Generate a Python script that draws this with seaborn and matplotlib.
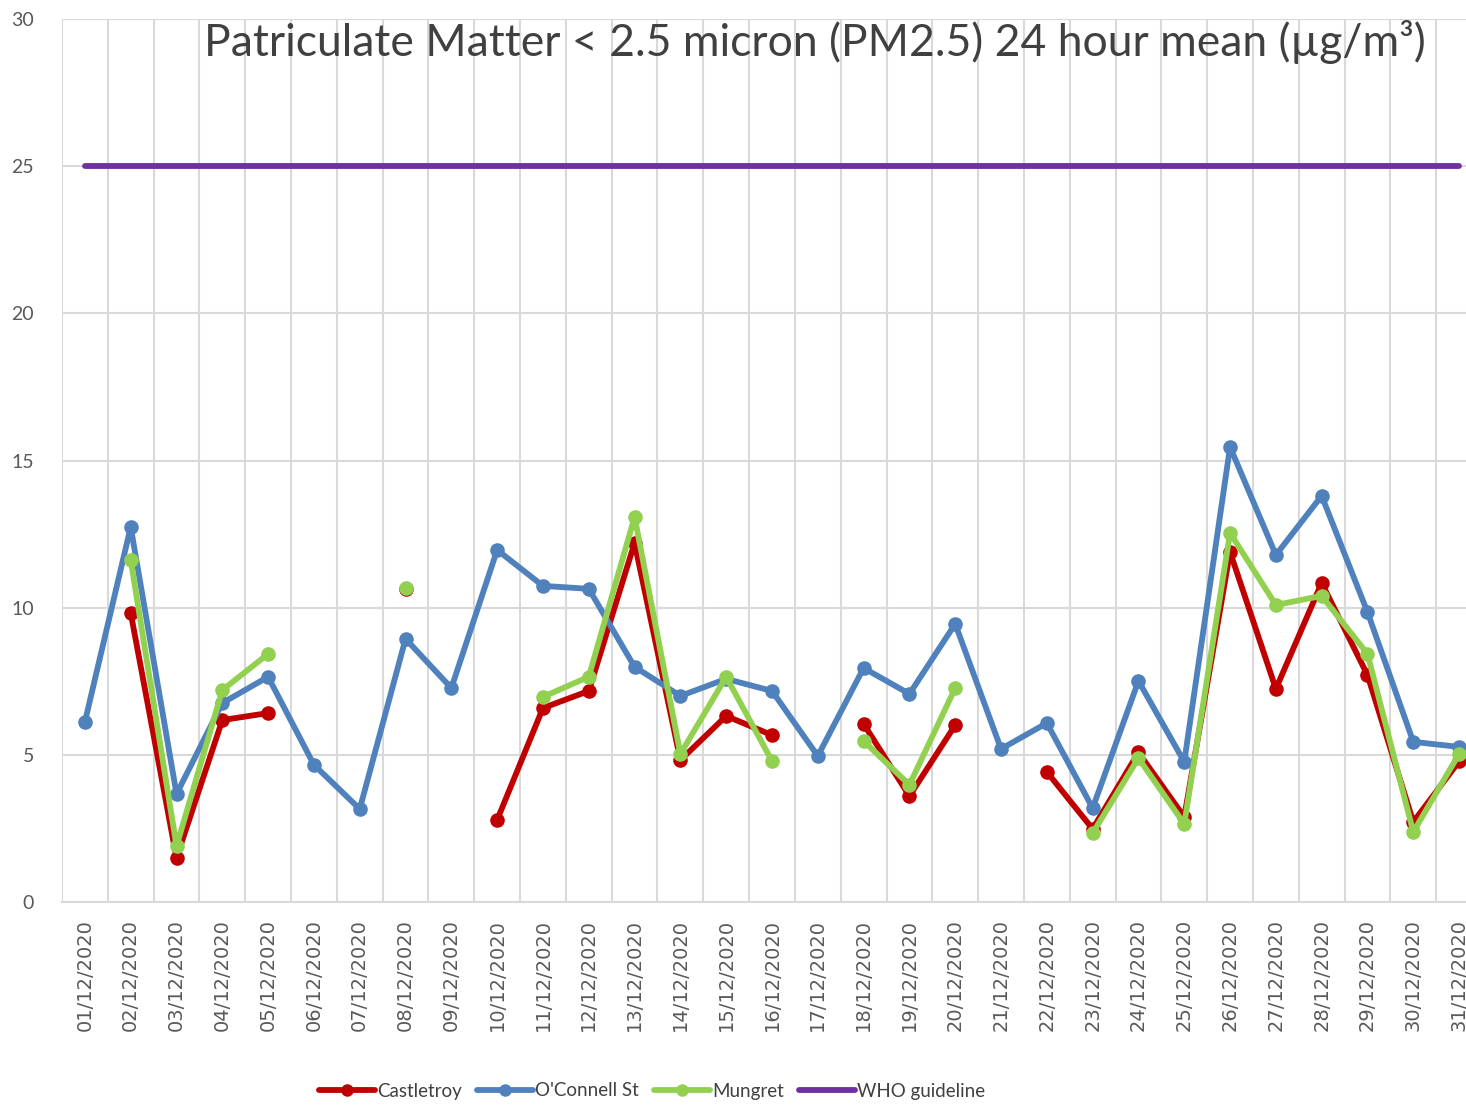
import numpy as np
import pandas as pd
import matplotlib
matplotlib.use('Agg')
import matplotlib.pyplot as plt
from matplotlib.ticker import MultipleLocator
from matplotlib.lines import Line2D
import seaborn as sns

# data (NaN = no reading)
days = [f'{d:02d}/12/2020' for d in range(1, 32)]
nan = np.nan
castletroy = [nan, 9.82, 1.50, 6.18, 6.42, nan, nan, 10.62, nan, 2.79,
              6.59, 7.17, 12.2, 4.82, 6.32, 5.67, nan, 6.05, 3.60, 6.01,
              nan, 4.42, 2.48, 5.08, 2.89, 11.89, 7.24, 10.84, 7.71, 2.72,
              4.78]
oconnell = [6.12, 12.74, 3.67, 6.76, 7.65, 4.66, 3.16, 8.94, 7.27, 11.96,
            10.74, 10.64, 7.99, 7.00, 7.58, 7.17, 4.96, 7.95, 7.07, 9.45,
            5.20, 6.08, 3.19, 7.51, 4.76, 15.46, 11.79, 13.80, 9.85, 5.44,
            5.27]
mungret = [nan, 11.62, 1.90, 7.20, 8.43, nan, nan, 10.67, nan, nan,
           6.97, 7.65, 13.08, 5.03, 7.65, 4.79, nan, 5.47, 3.98, 7.27,
           nan, nan, 2.34, 4.89, 2.65, 12.54, 10.09, 10.40, 8.43, 2.38,
           5.03]
who = [25.0] * 31

series = [('Castletroy', castletroy, '#C00000', True),
          ("O'Connell St", oconnell, '#4F81BD', True),
          ('Mungret', mungret, '#92D050', True),
          ('WHO guideline', who, '#7030A0', False)]

sns.set_style('white')
plt.rcParams['font.family'] = ['Lato', 'DejaVu Sans']

fig = plt.figure(figsize=(14.66, 11.05), dpi=100)
ax = fig.add_axes([62 / 1466, 1 - 902 / 1105, 1420 / 1466, 883 / 1105])

text_col = '#595959'
grid_col = '#D9D9D9'

for name, vals, col, mark in series:
    df = pd.DataFrame({'x': np.arange(31), 'y': vals})
    # split into runs so gaps stay gaps
    df['seg'] = df['y'].isna().cumsum()
    df = df.dropna()
    sns.lineplot(data=df, x='x', y='y', units='seg', estimator=None, ax=ax,
                 color=col, lw=4.2, marker='o' if mark else None,
                 markersize=10.5, markeredgewidth=0, sort=False,
                 legend=False)

ax.set_xlim(-0.5, 30.5)
ax.set_ylim(0, 30)
ax.yaxis.set_major_locator(MultipleLocator(5))
ax.set_xticks(np.arange(31))
ax.set_xticklabels(days, rotation=90, family='DejaVu Sans')
ax.set_xticks(np.arange(-0.5, 31, 1), minor=True)
ax.tick_params(axis='x', which='major', length=0, pad=12, labelsize=14,
               labelcolor=text_col)
ax.tick_params(axis='x', which='minor', length=7, width=1.5, color=grid_col)
ax.tick_params(axis='y', length=0, pad=20, labelsize=14, labelcolor=text_col)
ax.grid(axis='y', color=grid_col, lw=1.5)
ax.grid(axis='x', which='minor', color=grid_col, lw=1.5)
ax.set_axisbelow(True)
for s in ['top', 'right', 'left']:
    ax.spines[s].set_visible(False)
ax.spines['bottom'].set_color(grid_col)
ax.spines['bottom'].set_linewidth(1.5)
ax.set_xlabel('')
ax.set_ylabel('')

fig.text(815 / 1466, 1 - 42 / 1105,
         'Patriculate Matter < 2.5 micron (PM2.5) 24 hour mean (µg/m³)',
         ha='center', va='center', fontsize=32, color='#404040')

handles = [Line2D([], [], color=c, lw=4.2, marker='o' if m else None,
                  markersize=9, markeredgewidth=0) for _, _, c, m in series]
fig.legend(handles, [s[0] for s in series], loc='center',
           bbox_to_anchor=(652 / 1466, 1 - 1091 / 1105), ncol=4,
           frameon=False, fontsize=13.5, handlelength=3.0, handletextpad=0.1,
           columnspacing=0.8, labelcolor='#404040')

fig.savefig('out.png', dpi=100)
